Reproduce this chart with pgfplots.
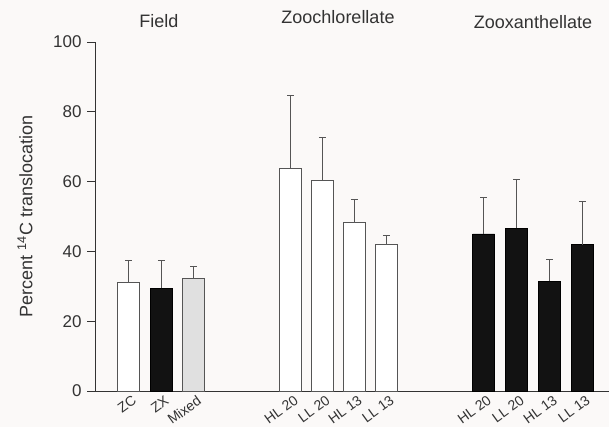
\documentclass[border=0pt]{standalone}
\usepackage{pgfplots}
\pgfplotsset{compat=1.18}
\usepackage{fontspec}
\setmainfont{Liberation Sans}
\definecolor{txt}{HTML}{333333}
\definecolor{edge}{HTML}{555555}
\definecolor{bg}{HTML}{FBF9F8}
\begin{document}
\begin{tikzpicture}[x=1pt,y=1pt]
\fill[bg] (0,0) rectangle (609,427);
\useasboundingbox (0,0) rectangle (609,427);
\begin{axis}[
  at={(95pt,36pt)}, anchor=origin,
  scale only axis, width=514pt, height=349pt,
  xmin=95, xmax=609, ymin=0, ymax=100,
  axis x line=bottom, axis y line=left,
  axis line style={-, draw=txt, line width=0.8pt},
  ytick={0,20,40,60,80,100},
  tick align=outside, major tick length=8pt,
  ytick style={draw=txt, line width=0.8pt},
  xtick={128.7,161.3,193.5,290.5,322.3,354.4,386.3,483.7,516.5,549.5,582.3},
  xticklabels={ZC,ZX,Mixed,HL 20,LL 20,HL 13,LL 13,HL 20,LL 20,HL 13,LL 13},
  xtick style={draw=none},
  x tick label style={rotate=36, anchor=north east, font=\fontsize{14}{14}\selectfont, text=txt, xshift=6pt, yshift=3pt, inner sep=1pt},
  y tick label style={font=\fontsize{17}{17}\selectfont, text=txt, xshift=-2pt},
  /pgf/number format/assume math mode=true,
  every axis y label/.style={at={(axis description cs:-0.136,0.5)}, rotate=90, anchor=center},
  ylabel={Percent \textsuperscript{14}C translocation},
  ylabel style={font=\fontsize{18}{18}\selectfont, text=txt},
  clip=false,
  ybar, bar width=22,
  error bars/y dir=plus, error bars/y explicit,
  error bars/error bar style={draw=edge, line width=0.7pt},
  error bars/error mark options={rotate=90, mark size=3.5pt, draw=edge, line width=0.7pt},
]
\addplot[bar shift=0pt, draw=edge, fill=white, line width=0.7pt] coordinates {
  (128.7,31.1) +- (0,6.3)
  (290.5,63.7) +- (0,21.0)
  (322.3,60.5) +- (0,12.1)
  (354.4,48.3) +- (0,6.7)
  (386.3,42.0) +- (0,2.5)
};
\addplot[bar shift=0pt, draw=black, fill=black!93, line width=0.7pt] coordinates {
  (161.3,29.4) +- (0,8.0)
  (483.7,45.0) +- (0,10.4)
  (516.5,46.6) +- (0,13.9)
  (549.5,31.4) +- (0,6.2)
  (582.3,41.9) +- (0,12.3)
};
\addplot[bar shift=0pt, draw=edge, fill=black!12, line width=0.7pt] coordinates {
  (193.5,32.3) +- (0,3.3)
};
\node[font=\fontsize{18}{18}\selectfont, text=txt] at (axis cs:159,106) {Field};
\node[font=\fontsize{18}{18}\selectfont, text=txt] at (axis cs:338,107) {Zoochlorellate};
\node[font=\fontsize{18}{18}\selectfont, text=txt] at (axis cs:533,105.8) {Zooxanthellate};
\end{axis}
\end{tikzpicture}
\end{document}
